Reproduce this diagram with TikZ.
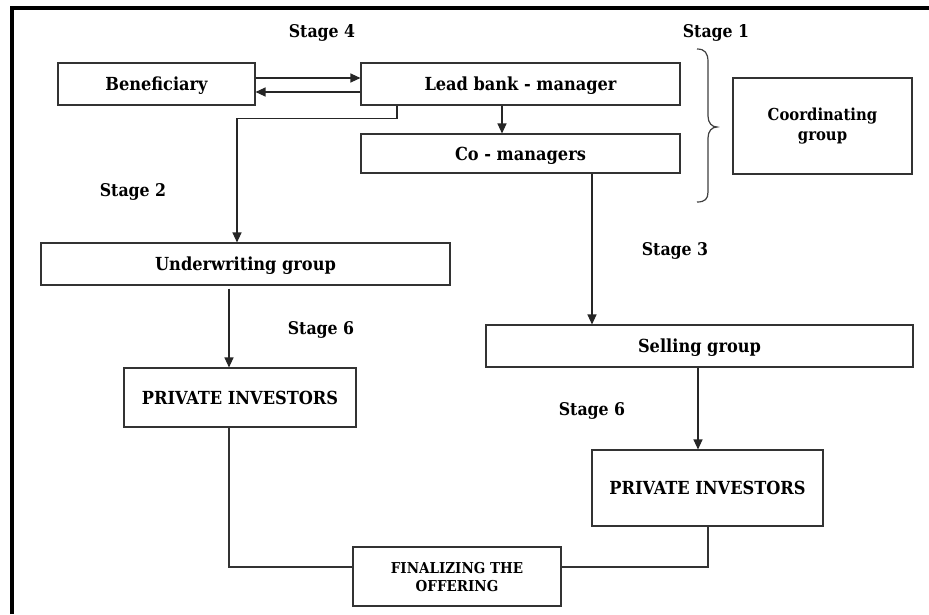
\documentclass[tikz,border=0pt]{standalone}
\usepackage{fontspec}
\setmainfont{DejaVu Serif Condensed}
\usetikzlibrary{arrows.meta}
\begin{document}
\begin{tikzpicture}[x=1pt,y=-1pt,
  box/.style={draw=black!80,line width=1.1pt,rectangle,inner sep=0pt,align=center,
    text depth=0pt,font=\fontsize{18}{21}\selectfont\bfseries},
  coordbox/.style={box,text depth=,font=\fontsize{16.5}{20}\selectfont\bfseries},
  finbox/.style={box,font=\fontsize{15}{18}\selectfont\bfseries},
  lbl/.style={inner sep=0pt,text depth=0pt,font=\fontsize{17.5}{20}\selectfont\bfseries},
  arr/.style={draw=black!85,line width=1.2pt,-{Triangle[length=10pt,width=9pt]}},
  con/.style={draw=black!80,line width=1.1pt}]
\useasboundingbox (0,0) rectangle (929,614);
\fill[white] (0,0) rectangle (929,614);
% frame
\draw[line width=4pt,line cap=butt] (12,614) -- (12,8) -- (929,8);
% nodes
\node[box,minimum width=197pt,minimum height=42pt] (ben) at (156.5,84) {Beneficiary};
\node[box,minimum width=319pt,minimum height=42pt] (lead) at (520.5,84) {Lead bank - manager};
\node[box,minimum width=319pt,minimum height=39pt] (co) at (520.5,153.5) {Co - managers};
\node[coordbox,minimum width=179pt,minimum height=96pt] (coord) at (822.5,126) {Coordinating\\group};
\node[box,minimum width=409pt,minimum height=42pt] (under) at (245.5,264) {Underwriting group};
\node[box,minimum width=427pt,minimum height=42pt] (sell) at (699.5,346) {Selling group};
\node[box,minimum width=232pt,minimum height=59pt] (pil) at (240,397.5) {PRIVATE INVESTORS};
\node[box,minimum width=231pt,minimum height=76pt] (pir) at (707.5,488) {PRIVATE INVESTORS};
\node[finbox,minimum width=208pt,minimum height=59pt] (fin) at (457,576.5) {FINALIZING THE\\OFFERING};
% labels
\node[lbl] (s4) at (322,31) {Stage 4};
\node[lbl] (s1) at (716,31) {Stage 1};
\node[lbl] (s2) at (133,190) {Stage 2};
\node[lbl] (s3) at (675,249) {Stage 3};
\node[lbl] (s6a) at (321,328) {Stage 6};
\node[lbl] (s6b) at (592,409) {Stage 6};
% connectors
\draw[arr] ([yshift=6pt]ben.east) -- ([yshift=6pt]lead.west);
\draw[arr] ([yshift=-8pt]lead.west) -- ([yshift=-8pt]ben.east);
\draw[arr] ([xshift=-18.5pt]lead.south) -- ([xshift=-18.5pt]co.north);
\draw[arr] ([xshift=-123.5pt]lead.south) -- ++(0,13) -| ([xshift=-8.5pt]under.north);
\draw[arr] ([xshift=71.5pt]co.south) -- ([xshift=-107.5pt]sell.north);
\draw[arr] ([xshift=-16.5pt,yshift=-3pt]under.south) -- ([xshift=-11pt]pil.north);
\draw[arr] ([xshift=-1.5pt]sell.south) -- ([xshift=-9.5pt]pir.north);
\draw[con] ([xshift=-11pt]pil.south) |- ([yshift=9.5pt]fin.west);
\draw[con] ([xshift=0.5pt]pir.south) |- ([yshift=9.5pt]fin.east);
% brace
\draw[black!75,line width=1.2pt] (697,49) .. controls (705,49) and (708,53) .. (708,62)
  -- (708,116) .. controls (708,123) and (712,127) .. (717,127)
  .. controls (712,127) and (708,131) .. (708,138)
  -- (708,192) .. controls (708,199) and (705,202) .. (697,202);
\end{tikzpicture}
\end{document}
